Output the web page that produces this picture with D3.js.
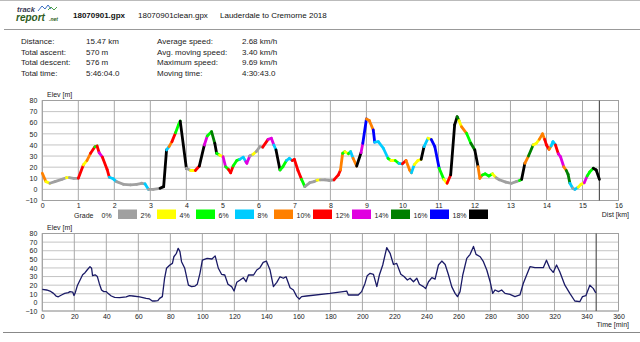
<!DOCTYPE html>
<html>
<head>
<meta charset="utf-8">
<script src="https://cdn.jsdelivr.net/npm/d3@7"></script>
<style>
  body { margin: 0; background: #fff; }
  svg { display: block; font-family: "Liberation Sans", Arial, sans-serif; }
</style>
</head>
<body>
<svg id="chart"></svg>
<script>
// Track summary
const fileNames = ["18070901.gpx", "18070901clean.gpx", "Lauderdale to Cremorne 2018"];
const statLabelsA = ["Distance:", "Total ascent:", "Total descent:", "Total time:"];
const statValuesA = ["15.47 km", "570 m", "576 m", "5:46:04.0"];
const statLabelsB = ["Average speed:", "Avg. moving speed:", "Maximum speed:", "Moving time:"];
const statValuesB = ["2.68 km/h", "3.40 km/h", "9.69 km/h", "4:30:43.0"];

const totalKm = 15.47;
const totalMin = 346.07;

// Axis ticks
const elevTicks = [-10, 0, 10, 20, 30, 40, 50, 60, 70, 80];
const distTicks = [0, 1, 2, 3, 4, 5, 6, 7, 8, 9, 10, 11, 12, 13, 14, 15, 16];
const timeTicks = [0, 20, 40, 60, 80, 100, 120, 140, 160, 180, 200, 220, 240, 260, 280, 300, 320, 340, 360];

// Grade classes
const gradeLabels = ["0%", "2%", "4%", "6%", "8%", "10%", "12%", "14%", "16%", "18%"];
const gradeColors = ["#a0a0a0", "#ffff00", "#00ff00", "#00ccff", "#ff8000",
                     "#ff0000", "#e000e0", "#008000", "#0000ff", "#000000"];

// Elevation by distance
const profileKm = [
  0.00, 0.10, 0.21, 0.35, 0.54, 0.67, 0.75, 0.87, 1.00, 1.14, 1.24, 1.34, 1.46, 1.52, 1.58, 1.67,
  1.80, 1.86, 1.97, 2.06, 2.25, 2.45, 2.62, 2.76, 2.85, 2.95, 3.08, 3.27, 3.37, 3.45, 3.52, 3.60,
  3.70, 3.78, 3.83, 4.00, 4.12, 4.25, 4.36, 4.50, 4.58, 4.70, 4.79, 4.84, 4.92, 5.02, 5.09, 5.17,
  5.23, 5.30, 5.40, 5.48, 5.58, 5.65, 5.68, 5.76, 5.85, 5.94, 6.04, 6.12, 6.27, 6.36, 6.43, 6.49,
  6.60, 6.68, 6.78, 6.86, 6.94, 7.00, 7.10, 7.20, 7.29, 7.43, 7.55, 7.63, 7.72, 7.85, 7.98, 8.10,
  8.22, 8.28, 8.34, 8.40, 8.50, 8.56, 8.63, 8.73, 8.85, 8.90, 9.00, 9.08, 9.19, 9.23, 9.33, 9.47,
  9.60, 9.68, 9.80, 9.90, 10.00, 10.10, 10.20, 10.25, 10.33, 10.43, 10.52, 10.60, 10.71, 10.80,
  10.90, 11.02, 11.15, 11.24, 11.34, 11.45, 11.52, 11.57, 11.64, 11.78, 11.90, 12.01, 12.10, 12.15,
  12.22, 12.30, 12.40, 12.50, 12.60, 12.69, 12.87, 13.03, 13.16, 13.25, 13.31, 13.40, 13.50, 13.63,
  13.72, 13.80, 13.89, 13.95, 14.00, 14.07, 14.13, 14.18, 14.25, 14.33, 14.39, 14.48, 14.55, 14.60,
  14.65, 14.73, 14.79, 14.88, 14.96, 15.05, 15.13, 15.20, 15.30, 15.38, 15.47
];
const profileElev = [
  14.5, 7, 5.5, 7, 9, 10.5, 10.5, 10, 10, 22, 26, 32.5, 38.4, 39, 33, 29,
  18, 11, 9.5, 7, 4.6, 4, 4.5, 5.5, 5, 0, 0, 1, 2.5, 35.5, 38.5, 43,
  51, 58, 61.5, 19, 17, 17, 21, 40, 48, 52, 41.5, 32.5, 31, 29.4, 20.4, 18,
  15, 21, 26, 27, 29, 25, 23.5, 30, 31.5, 34, 38.4, 38, 45, 46, 40, 35.5,
  17.5, 20.4, 26, 28, 26, 27, 17, 9, 2.5, 6, 7, 8.3, 8.5, 8.5, 8, 8.5,
  13, 17.5, 32.5, 34, 32, 34, 28, 21, 33, 41.5, 63.4, 62, 53.5, 42.5, 43, 37,
  28, 26, 26, 23.5, 23, 26, 17.5, 15, 22.3, 26, 27, 38.5, 46, 45,
  38.4, 19, 9, 5.5, 13, 58, 65.4, 62, 56.4, 50.5, 41.5, 35.5, 20.4, 10,
  13, 14, 12, 14, 10.5, 8.7, 6.5, 5.5, 7, 8, 9, 23.5, 30, 40,
  41.5, 45, 50, 45, 40, 36, 39, 43, 40, 32, 29.4, 20.4, 17, 13.5,
  5.5, 1, 0, 2, 4.6, 6, 12, 15.6, 19, 17.5, 9
];
// grade class of each segment (index into gradeColors)
const profileGrade = [
  4, 1, 0, 0, 0, 1, 0, 0, 5, 1, 4, 5, 2, 5, 6, 5,
  5, 3, 3, 0, 0, 0, 0, 0, 3, 0, 0, 9, 9, 3, 4, 5,
  2, 2, 9, 0, 1, 5, 9, 6, 2, 7, 9, 2, 1, 6, 2, 5,
  5, 2, 2, 3, 3, 6, 6, 0, 1, 0, 0, 5, 6, 6, 3, 9,
  2, 2, 3, 3, 5, 5, 5, 2, 0, 0, 0, 1, 0, 0, 0, 5,
  5, 4, 2, 1, 2, 3, 4, 9, 6, 8, 4, 4, 8, 3, 3, 3,
  2, 1, 2, 3, 5, 4, 4, 3, 1, 1, 9, 3, 1, 8,
  8, 2, 1, 5, 9, 9, 7, 1, 4, 2, 7, 9, 4, 4,
  2, 2, 2, 1, 0, 0, 0, 0, 0, 2, 9, 4, 7, 1,
  1, 4, 4, 5, 5, 4, 3, 3, 5, 6, 6, 4, 7, 7,
  3, 0, 3, 1, 1, 6, 2, 2, 9, 9
];

// Elevation by time
const timeMin = [
  0, 2.7, 4.8, 7, 8.6, 10, 12, 14, 16.3, 17.3, 19, 19.8, 20.6, 22, 23.6, 25.2, 26.7, 28, 29.8,
  30.8, 31.4, 33, 34.4, 35.6, 37, 38.4, 40, 41, 43.1, 45.2, 48.3, 52.4, 54.5, 56.6, 60.8, 64.9,
  67, 68.7, 70.2, 72.2, 73.3, 75, 76.4, 77.6, 79.7, 81.3, 82.2, 83.8, 84.9, 86, 87, 89, 91.3,
  93.3, 95.4, 96.8, 98.5, 100, 103, 106, 108, 110, 112, 114, 116, 118.3, 119.8, 121.5, 123.6,
  125.6, 127.3, 128.8, 132, 134, 136, 138, 140, 142.3, 144.4, 146.5, 148.5, 150.6, 152.3, 154.8,
  156.9, 159, 160.6, 162, 165.1, 179.8, 190.2, 191.2, 193.3, 197.4, 199.5, 201.6, 203, 204.8,
  206.9, 209, 210.6, 212.7, 215.2, 217.3, 219.4, 221.4, 224, 226, 228.1, 229.8, 231.9, 234,
  235.6, 238.1, 239.5, 241.3, 243.4, 245.4, 247.5, 249.6, 251.7, 253.8, 255.8, 257.9, 259.4, 261,
  262.7, 265.2, 267.3, 269.4, 271, 273.6, 275.6, 277.7, 279.8, 281.4, 282.9, 285, 287, 289.1,
  292.2, 295.3, 298.4, 300.5, 302.6, 304.7, 307.8, 313, 315, 317.1, 319.2, 321.3, 323.3, 326.5,
  329.6, 332.7, 335.8, 337.5, 339.6, 342.1, 344.2, 345.8
];
const timeElev = [
  15, 14.4, 13.2, 10.5, 7.4, 6.5, 8.6, 10.5, 11.3, 12.5, 12, 8, 11.3, 20, 26, 32, 34.5, 37.6, 41.5,
  39.6, 31, 32, 30, 22, 14.4, 12.5, 12.5, 10.5, 7.4, 5.9, 5.5, 6.3, 7.8, 7.4, 6.3, 4.7,
  4, 1.6, 1.6, 2, 4.7, 6.7, 28, 39.6, 43.4, 45.3, 53, 57, 62.8, 59, 47.3, 39.6, 20,
  18.3, 19, 21, 33.8, 49, 51.2, 50.4, 54, 39.6, 32.6, 31.8, 21, 18.3, 13.2, 23.3, 26,
  28.7, 24, 31.8, 31.8, 37.6, 40.3, 46.5, 48, 37.6, 18.3, 23.3, 29.8, 28, 29.8, 17,
  14.4, 6.7, 4, 6.7, 7.4, 10.5, 13.2, 8.6, 8.6, 8.6, 12.5, 22, 31, 33.8,
  32.6, 18.3, 31.8, 43.4, 63.6, 57, 44, 45.3, 32.6, 30, 26, 28, 24, 28,
  21, 18.3, 16, 24, 28.7, 27, 43.4, 48, 44, 31.8, 18.3, 10.5, 6.7, 12.5,
  31.8, 51.2, 55.8, 65, 55.8, 53, 47.3, 37.6, 24, 10.5, 14.4, 12.5, 14.4, 10.5,
  9.4, 6.7, 8.6, 22, 31.8, 41.5, 40.3, 40.3, 49, 39.6, 34.8, 43.4, 35.6, 20,
  10.5, 1.6, 0.8, 6.7, 7.8, 20, 16.3, 11
];

const width = 640, height = 342;
const svg = d3.select("#chart").attr("width", width).attr("height", height);

const plotLeft = 42.3, plotRight = 618.5;
const textColor = "#222";

// ---- header ----
svg.append("line").attr("x1", 0).attr("x2", width).attr("y1", 0.5).attr("y2", 0.5)
  .attr("stroke", "#bbb");
svg.append("line").attr("x1", 4).attr("x2", width).attr("y1", 29.5).attr("y2", 29.5)
  .attr("stroke", "#999");

// logo
const logo = svg.append("g");
logo.append("text").text("track").attr("x", 17).attr("y", 11.5)
  .attr("font-size", 7.5).attr("font-style", "italic").attr("font-weight", "bold")
  .attr("fill", "#3a3a55");
logo.append("polyline").attr("points", "38,11 42,6 45,9 48,5 51,9")
  .attr("fill", "none").attr("stroke", "#3b6fc2").attr("stroke-width", 1);
logo.append("polyline").attr("points", "48,10 51,7 54,10 57,7")
  .attr("fill", "none").attr("stroke", "#4aa048").attr("stroke-width", 1);
logo.append("text").text("report").attr("x", 16).attr("y", 21)
  .attr("font-size", 10).attr("font-style", "italic").attr("font-weight", "bold")
  .attr("fill", "#2f5d24");
logo.append("text").text(".net").attr("x", 49).attr("y", 21)
  .attr("font-size", 5).attr("font-style", "italic").attr("font-weight", "bold")
  .attr("fill", "#2f5d24");

const titleX = [73, 138, 220];
svg.selectAll("text.fname").data(fileNames).enter().append("text")
  .attr("class", "fname")
  .attr("x", (d, i) => titleX[i]).attr("y", 17.5)
  .attr("font-size", 8).attr("fill", "#111")
  .attr("font-weight", (d, i) => i === 0 ? "bold" : "normal")
  .text(d => d);

// stats table
const statRowY = [44, 54.6, 65.2, 75.8];
const statCols = [
  { x: 21, items: statLabelsA }, { x: 86, items: statValuesA },
  { x: 157, items: statLabelsB }, { x: 242, items: statValuesB }
];
statCols.forEach(col => {
  svg.append("g").selectAll("text").data(col.items).enter().append("text")
    .attr("x", col.x).attr("y", (d, i) => statRowY[i])
    .attr("font-size", 8).attr("fill", textColor)
    .text(d => d);
});

// ---- plot frame helper ----
function drawFrame(xScale, yScale, xTicks, xTitle, titleY) {
  const [y0, y1] = yScale.range();
  const g = svg.append("g");
  // horizontal grid
  g.selectAll("line.h").data(elevTicks).enter().append("line")
    .attr("x1", plotLeft).attr("x2", plotRight)
    .attr("y1", d => yScale(d)).attr("y2", d => yScale(d))
    .attr("stroke", "#c4c4c4").attr("stroke-width", 1);
  // vertical grid
  g.selectAll("line.v").data(xTicks).enter().append("line")
    .attr("x1", d => xScale(d)).attr("x2", d => xScale(d))
    .attr("y1", y1).attr("y2", y0)
    .attr("stroke", "#a8a8a8").attr("stroke-width", 1);
  g.append("rect")
    .attr("x", plotLeft).attr("y", y1)
    .attr("width", plotRight - plotLeft).attr("height", y0 - y1)
    .attr("fill", "none").attr("stroke", "#a0a0a0");

  // y labels
  const yAxis = d3.axisLeft(yScale).tickValues(elevTicks).tickSize(0).tickPadding(5);
  const ya = svg.append("g").attr("transform", `translate(${plotLeft},0)`).call(yAxis);
  ya.select(".domain").remove();
  ya.selectAll("text").attr("font-size", 7).attr("fill", textColor)
    .attr("font-family", "Liberation Sans, Arial, sans-serif");

  // x labels
  const xAxis = d3.axisBottom(xScale).tickValues(xTicks).tickSize(0).tickPadding(3);
  const xa = svg.append("g").attr("transform", `translate(0,${y0})`).call(xAxis);
  xa.select(".domain").remove();
  xa.selectAll("text").attr("font-size", 7).attr("fill", textColor)
    .attr("font-family", "Liberation Sans, Arial, sans-serif");

  svg.append("text").text("Elev [m]")
    .attr("x", 47).attr("y", y1 - 4)
    .attr("font-size", 7).attr("fill", textColor);
  svg.append("text").text(xTitle)
    .attr("x", 629).attr("y", titleY)
    .attr("text-anchor", "end")
    .attr("font-size", 7).attr("fill", textColor);
}

// ---- elevation vs distance ----
const xDist = d3.scaleLinear().domain([0, 16]).range([plotLeft, plotRight]);
const yTop = d3.scaleLinear().domain([-10, 80]).range([200.5, 100.5]);
drawFrame(xDist, yTop, distTicks, "Dist [km]", 217);

svg.append("line")
  .attr("x1", xDist(totalKm)).attr("x2", xDist(totalKm))
  .attr("y1", yTop(80)).attr("y2", yTop(-10))
  .attr("stroke", "#555").attr("stroke-width", 1.2);

const segments = profileGrade.map((g, i) => ({
  x1: profileKm[i], y1: profileElev[i],
  x2: profileKm[i + 1], y2: profileElev[i + 1], grade: g
}));
svg.append("g").selectAll("line").data(segments).enter().append("line")
  .attr("x1", d => xDist(d.x1)).attr("y1", d => yTop(d.y1))
  .attr("x2", d => xDist(d.x2)).attr("y2", d => yTop(d.y2))
  .attr("stroke", d => gradeColors[d.grade])
  .attr("stroke-width", 2.8)
  .attr("stroke-linecap", "round");

// grade legend: label, then its colour box
const legend = svg.append("g");
legend.append("text").text("Grade").attr("x", 74).attr("y", 217.5)
  .attr("font-size", 7).attr("fill", textColor);
const swatchX = d3.scaleLinear().domain([0, 1]).range([118, 157]);
legend.selectAll("rect").data(gradeColors).enter().append("rect")
  .attr("x", (d, i) => swatchX(i)).attr("y", 209.5)
  .attr("width", 19).attr("height", 9.5)
  .attr("fill", d => d);
legend.selectAll("text.gl").data(gradeLabels).enter().append("text")
  .attr("class", "gl")
  .attr("x", (d, i) => swatchX(i) - 16.5).attr("y", 217.5)
  .attr("font-size", 7).attr("fill", textColor)
  .text(d => d);

// ---- elevation vs time ----
const xTime = d3.scaleLinear().domain([0, 360]).range([plotLeft, plotRight]);
const yBot = d3.scaleLinear().domain([-10, 80]).range([311, 233.5]);
drawFrame(xTime, yBot, timeTicks, "Time [min]", 327);

svg.append("line")
  .attr("x1", xTime(totalMin)).attr("x2", xTime(totalMin))
  .attr("y1", yBot(80)).attr("y2", yBot(-10))
  .attr("stroke", "#555").attr("stroke-width", 1.2);

const timeLine = d3.line()
  .x((d, i) => xTime(timeMin[i]))
  .y(d => yBot(d));
svg.append("path")
  .datum(timeElev)
  .attr("fill", "none")
  .attr("stroke", "#1a1a66")
  .attr("stroke-width", 1.3)
  .attr("stroke-linejoin", "round")
  .attr("d", timeLine);

// bottom rule
svg.append("line").attr("x1", 3).attr("x2", width).attr("y1", 332.5).attr("y2", 332.5)
  .attr("stroke", "#888");
</script>
</body>
</html>
